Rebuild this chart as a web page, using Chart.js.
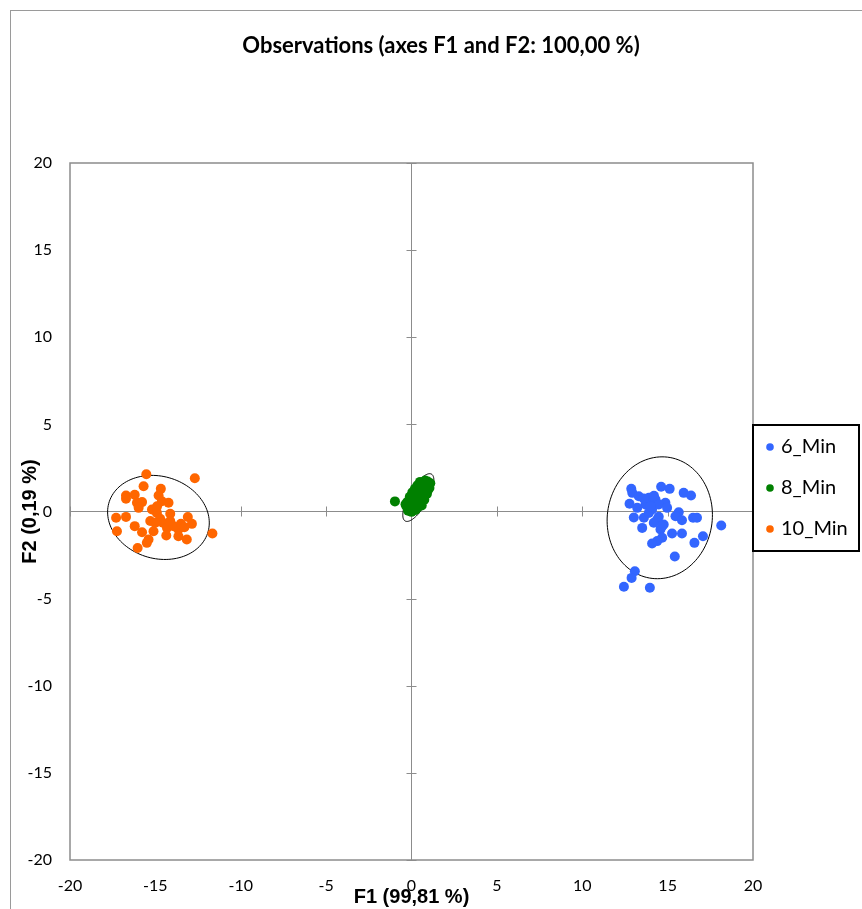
<!DOCTYPE html>
<html>
<head>
<meta charset="utf-8">
<script src="https://cdn.jsdelivr.net/npm/chart.js@4.4.1/dist/chart.umd.min.js"></script>
<style>
  body { margin: 0; background: #fff; }
  #wrap { position: relative; width: 862px; height: 909px; }
</style>
</head>
<body>
<div id="wrap"><canvas id="chart"></canvas></div>
<script>
// observations
const seriesNames = ["6_Min", "8_Min", "10_Min"];
const seriesColors = ["#3366ff", "#008000", "#ff6600"];

const min6 = [
  [12.87,1.30],[12.93,1.07],[13.31,0.88],[14.62,1.42],[15.12,1.30],[15.94,1.07],[16.37,0.92],
  [12.77,0.44],[13.90,0.79],[14.29,0.69],[14.87,0.50],[13.70,0.40],[13.22,0.21],[14.09,0.11],
  [15.65,-0.04],[15.46,-0.27],[15.84,-0.50],[16.49,-0.36],[16.72,-0.36],[13.02,-0.34],[13.61,-0.36],
  [14.39,-0.46],[14.19,-0.65],[14.77,-0.75],[13.51,-0.94],[14.58,-1.03],[15.26,-1.26],[15.84,-1.26],
  [14.68,-1.51],[14.39,-1.70],[14.09,-1.84],[17.07,-1.42],[16.57,-1.80],[18.14,-0.80],[15.42,-2.58],
  [13.08,-3.43],[12.89,-3.81],[12.44,-4.32],[13.96,-4.38],[14.48,0.40],[14.97,0.21],[13.90,-0.08],
  [14.48,-0.30],[14.68,-0.84],[13.60,0.75],[14.20,0.90],[14.00,0.30]
];
const min8 = [
  [-0.05,0.15],[0.10,0.05],[0.25,0.10],[0.05,0.35],[0.20,0.30],[0.35,0.25],[-0.10,0.45],[0.15,0.55],
  [0.30,0.45],[0.45,0.40],[0.00,0.70],[0.25,0.70],[0.40,0.62],[0.55,0.55],[0.10,0.90],[0.30,0.88],
  [0.50,0.80],[0.65,0.75],[0.20,1.05],[0.40,1.02],[0.60,0.95],[0.75,0.90],[0.35,1.20],[0.55,1.15],
  [0.70,1.10],[0.85,1.05],[0.45,1.35],[0.65,1.30],[0.80,1.25],[0.95,1.20],[0.55,1.50],[0.75,1.45],
  [0.90,1.40],[0.65,1.65],[0.85,1.60],[1.00,1.55],[0.80,1.78],[0.95,1.72],[0.70,1.05],[0.50,0.60],
  [-0.30,0.30],[-0.25,0.55],[-0.10,0.85],[0.05,1.10],[0.20,1.30],[0.35,1.50],[0.50,1.70],[-0.20,0.05],
  [0.00,-0.02],[1.10,1.62],[1.05,1.35],[0.90,1.00],[0.75,0.68],[0.60,0.35],[-0.35,0.42],[-0.97,0.58]
];
const min10 = [
  [-15.53,2.14],[-12.69,1.91],[-15.69,1.45],[-14.68,1.30],[-16.72,0.92],[-16.72,0.73],[-16.21,0.96],
  [-14.81,0.92],[-16.08,0.50],[-15.78,0.54],[-14.62,0.59],[-14.23,0.50],[-15.98,0.21],[-15.20,0.11],
  [-14.91,-0.08],[-14.13,-0.13],[-17.30,-0.36],[-16.72,-0.31],[-15.30,-0.55],[-14.72,-0.42],[-14.56,-0.65],
  [-13.10,-0.32],[-12.86,-0.71],[-17.25,-1.13],[-16.21,-0.84],[-15.78,-1.19],[-15.11,-1.13],[-14.32,-0.94],
  [-14.36,-1.38],[-13.65,-1.03],[-13.65,-1.42],[-13.16,-1.61],[-15.40,-1.61],[-15.50,-1.80],[-16.04,-2.09],
  [-11.66,-1.26],[-13.93,-0.84],[-14.13,-0.55],[-15.01,-0.65],[-13.50,-0.70],[-14.90,0.30],[-13.30,-0.90]
];

// confidence ellipses: centre, semi-axes, rotation (degrees)
const ellCenters = [[14.54,-0.36],[0.40,0.80],[-14.82,-0.34]];
const ellAxes = [[3.51,3.07],[1.55,0.55],[3.02,2.36]];
const ellAngles = [80, 60, -15.5];

const axisMin = -20, axisMax = 20, axisStep = 5;

const AXIS_GRAY = "#8c8c8c";

const decor = {
  id: "decor",
  beforeDraw(chart) {
    const c = chart.ctx;
    c.save();
    c.fillStyle = "#fff";
    c.fillRect(0, 0, chart.width, chart.height);
    c.strokeStyle = "#9a9a9a";
    c.lineWidth = 1;
    c.strokeRect(10.5, 10.5, chart.width + 50, chart.height + 50);
    c.restore();
  },
  beforeDatasetsDraw(chart) {
    const { ctx: c, chartArea: a, scales: { x, y } } = chart;
    c.save();
    c.strokeStyle = AXIS_GRAY;
    c.lineWidth = 1.5;
    c.strokeRect(a.left, a.top, a.right - a.left, a.bottom - a.top);

    // small ticks across the zero axes
    const x0 = x.getPixelForValue(0), y0 = y.getPixelForValue(0);
    c.lineWidth = 1;
    c.beginPath();
    x.ticks.forEach(t => {
      if (t.value === 0) return;
      const p = Math.round(x.getPixelForValue(t.value)) + 0.5;
      c.moveTo(p, y0 - 5); c.lineTo(p, y0 + 5);
    });
    y.ticks.forEach(t => {
      if (t.value === 0) return;
      const p = Math.round(y.getPixelForValue(t.value)) + 0.5;
      c.moveTo(x0 - 5, p); c.lineTo(x0 + 5, p);
    });
    c.stroke();

    c.strokeStyle = "#000";
    c.lineWidth = 1;
    ellCenters.forEach((cen, i) => {
      const [ra, rb] = ellAxes[i], th = ellAngles[i] * Math.PI / 180;
      c.beginPath();
      for (let k = 0; k <= 120; k++) {
        const t = k / 120 * 2 * Math.PI;
        const dx = ra * Math.cos(t), dy = rb * Math.sin(t);
        const px = x.getPixelForValue(cen[0] + dx * Math.cos(th) - dy * Math.sin(th));
        const py = y.getPixelForValue(cen[1] + dx * Math.sin(th) + dy * Math.cos(th));
        if (k) c.lineTo(px, py); else c.moveTo(px, py);
      }
      c.closePath();
      c.stroke();
    });
    c.restore();
  },
  afterDraw(chart) {
    // boxed legend on the right
    const c = chart.ctx;
    const lx = chart.chartArea.right, ly = 425, lw = 106, lh = 126;
    c.save();
    c.fillStyle = "#fff";
    c.fillRect(lx, ly, lw, lh);
    c.strokeStyle = "#000";
    c.lineWidth = 2;
    c.strokeRect(lx, ly, lw, lh);
    c.font = "20px Lato";
    c.textBaseline = "middle";
    chart.data.datasets.forEach((ds, i) => {
      const yy = ly + 22 + i * 41;
      c.fillStyle = ds.backgroundColor;
      c.beginPath();
      c.arc(lx + 17, yy, 3.8, 0, 2 * Math.PI);
      c.fill();
      c.fillStyle = "#000";
      c.fillText(ds.label, lx + 28, yy);
    });
    c.restore();
  }
};

const allSeries = [min6, min8, min10];

Chart.defaults.font.family = "Lato";
Chart.defaults.color = "#000";

new Chart(document.getElementById("chart"), {
  type: "scatter",
  data: {
    datasets: allSeries.map((pts, i) => ({
      label: seriesNames[i],
      data: pts.map(p => ({ x: p[0], y: p[1] })),
      backgroundColor: seriesColors[i],
      borderWidth: 0,
      pointRadius: 5,
      pointHoverRadius: 5
    }))
  },
  options: {
    responsive: true,
    maintainAspectRatio: false,
    animation: false,
    layout: { padding: { left: 20, right: 0, top: 0, bottom: 0 } },
    plugins: {
      legend: { display: false },
      tooltip: { enabled: false },
      title: {
        display: true,
        text: "Observations (axes F1 and F2: 100,00 %)",
        font: { family: "Lato", weight: "bold", size: 22 },
        color: "#000",
        padding: { top: 33, bottom: 103.6 }
      }
    },
    scales: {
      x: {
        type: "linear",
        position: "bottom",
        min: axisMin, max: axisMax,
        ticks: { stepSize: axisStep, padding: 16, font: { size: 16 } },
        grid: { drawTicks: false, color: ctx => ctx.tick && ctx.tick.value === 0 ? AXIS_GRAY : "rgba(0,0,0,0)" },
        border: { display: false },
        title: {
          display: true,
          text: "F1 (99,81 %)",
          font: { family: "Liberation Sans", weight: "bold", size: 20 },
          padding: { top: 0, bottom: 0 }
        },
        afterFit: s => { s.height = 49; }
      },
      y: {
        type: "linear",
        position: "left",
        min: axisMin, max: axisMax,
        ticks: { stepSize: axisStep, padding: 18, font: { size: 16 } },
        grid: { drawTicks: false, color: ctx => ctx.tick && ctx.tick.value === 0 ? AXIS_GRAY : "rgba(0,0,0,0)" },
        border: { display: false },
        title: {
          display: true,
          text: "F2 (0,19 %)",
          font: { family: "Liberation Sans", weight: "bold", size: 20, lineHeight: 1 },
          padding: { top: 0, bottom: 0 }
        },
        afterFit: s => { s.width = 50; }
      },
      yRight: {
        type: "linear",
        position: "right",
        ticks: { display: false },
        grid: { display: false },
        border: { display: false },
        afterFit: s => { s.width = 109; }
      }
    }
  },
  plugins: [decor]
});
</script>
</body>
</html>
